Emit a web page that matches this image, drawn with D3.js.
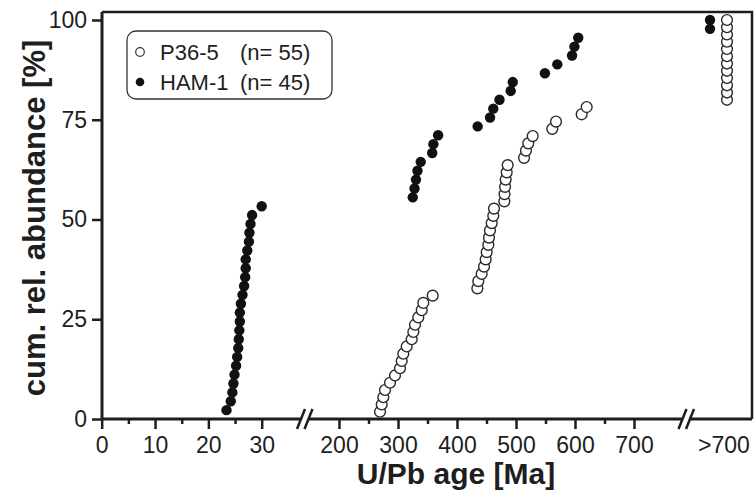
<!DOCTYPE html>
<html>
<head>
<meta charset="utf-8">
<script src="https://cdn.jsdelivr.net/npm/d3@7"></script>
<style>
  body { margin: 0; background: #fff; }
  svg { display: block; font-family: "Liberation Sans", Arial, sans-serif; }
</style>
</head>
<body>
<svg id="chart"></svg>
<script>
// U/Pb ages, sorted; ">700" = plotted in the overflow column
const hamAges = [23.4, 24.2, 24.5, 24.7, 24.9, 25.2, 25.4, 25.6, 25.7, 25.8, 25.9, 25.9,
    26.1, 26.4, 26.7, 26.9, 27.0, 27.0, 27.3, 27.6, 27.7, 27.9, 28.2, 30.0,
    325, 328, 330.5, 333, 338.5, 358, 360, 368, 435, 456, 461.5, 472, 491, 494.5,
    549, 570, 595, 599, 605.5, '>700', '>700'];
const p36Ages = [269.5, 272.4, 275.1, 278, 286.4, 294.9, 303.4, 306.3, 309, 314.7, 323.2,
    326, 328.8, 334.4, 340.2, 342.9, 358.8,
    434.5, 436.1, 441.8, 445.8, 448.6, 450.3, 453.1, 454.2, 455.9, 458.8, 461.5, 462.7,
    480.2, 480.5, 481.4, 482.5, 484.2, 485.9, 513.6, 516.9, 520.8, 528.3, 561.5, 567.8,
    611.3, 619.8,
    '>700', '>700', '>700', '>700', '>700', '>700', '>700', '>700', '>700', '>700', '>700', '>700'];
const seriesNames = ['P36-5', 'HAM-1'];
const yTicks = [0, 25, 50, 75, 100];
const xTicks1 = [0, 10, 20, 30];
const xMinor1 = [5, 15, 25];
const xTicks2 = [200, 300, 400, 500, 600, 700];
const xMinor2 = [250, 350, 450, 550, 650];
const overflowLabel = '>700';

const width = 756;
const height = 497;
const plotLeft = 102, plotTop = 12, plotRight = 752, y0 = 419;
const ink = '#1e1e1e';

const svg = d3.select('#chart')
    .attr('width', width)
    .attr('height', height);

const y = d3.scaleLinear().domain([0, 100]).range([y0, 20]);
const x1 = d3.scaleLinear().domain([0, 30]).range([101.7, 261.7]);
const x2 = d3.scaleLinear().domain([200, 700]).range([339, 634]);
const x3 = d3.scalePoint().domain(['HAM-1', 'P36-5']).range([710, 727]);

const xPos = (age, name) => age === overflowLabel ? x3(name) : (age < 100 ? x1(age) : x2(age));

const cum = (ages, name) => ages.map((a, i) => ({ age: a, name: name, pct: (i + 1) / ages.length * 100 }));

// frame: top and right
svg.append('path')
    .attr('d', `M${plotLeft},${plotTop}H${plotRight}V${y0}`)
    .attr('fill', 'none')
    .attr('stroke', ink)
    .attr('stroke-width', 2.5);

// y axis
const yAxis = svg.append('g')
    .attr('transform', `translate(${plotLeft},0)`)
    .call(d3.axisLeft(y).tickValues(yTicks).tickSize(10).tickPadding(5));
yAxis.select('.domain').remove();
svg.append('line')
    .attr('x1', plotLeft).attr('x2', plotLeft).attr('y1', plotTop).attr('y2', y0)
    .attr('stroke', ink).attr('stroke-width', 3);

// broken x axis
const segs = [[plotLeft, 301], [309, 683], [689, plotRight]];
segs.forEach(s => {
    svg.append('line')
        .attr('x1', s[0]).attr('x2', s[1]).attr('y1', y0).attr('y2', y0)
        .attr('stroke', ink).attr('stroke-width', 3);
});
[301, 308.5, 682.5, 690].forEach(bx => {
    svg.append('line')
        .attr('x1', bx - 4).attr('y1', y0 + 10)
        .attr('x2', bx + 4).attr('y2', y0 - 10)
        .attr('stroke', ink).attr('stroke-width', 2.5);
});

function bottomAxis(scale, vals, size, labels) {
    const g = svg.append('g')
        .attr('transform', `translate(0,${y0})`)
        .call(d3.axisBottom(scale).tickValues(vals).tickSize(size).tickPadding(8)
            .tickFormat(labels ? d3.format('d') : ''));
    g.select('.domain').remove();
    return g;
}
bottomAxis(x1, xTicks1, 10, true);
bottomAxis(x1, xMinor1, 5, false);
bottomAxis(x2, xTicks2, 10, true);
bottomAxis(x2, xMinor2, 5, false);

svg.selectAll('.tick line').attr('stroke', ink).attr('stroke-width', 2.5);
svg.selectAll('.tick text')
    .attr('fill', ink)
    .style('font-size', '23px');

svg.append('text')
    .attr('x', 724).attr('y', y0 + 18)
    .attr('dy', '0.71em')
    .attr('text-anchor', 'middle')
    .attr('fill', ink)
    .style('font-size', '23px')
    .text(overflowLabel);

// axis titles
svg.append('text')
    .attr('transform', 'translate(45,218) rotate(-90)')
    .attr('text-anchor', 'middle')
    .attr('fill', ink)
    .style('font-size', '31px')
    .style('font-weight', 'bold')
    .text('cum. rel. abundance [%]');

svg.append('text')
    .attr('x', 456).attr('y', 484)
    .attr('text-anchor', 'middle')
    .attr('fill', ink)
    .style('font-size', '30px')
    .style('font-weight', 'bold')
    .text('U/Pb age [Ma]');

// points
svg.append('g').selectAll('circle')
    .data(cum(hamAges, 'HAM-1'))
    .enter().append('circle')
    .attr('cx', d => xPos(d.age, d.name))
    .attr('cy', d => y(d.pct))
    .attr('r', 5.2)
    .attr('fill', '#111');

svg.append('g').selectAll('circle')
    .data(cum(p36Ages, 'P36-5'))
    .enter().append('circle')
    .attr('cx', d => xPos(d.age, d.name))
    .attr('cy', d => y(d.pct))
    .attr('r', 5.4)
    .attr('fill', '#fff')
    .attr('stroke', '#2a2a2a')
    .attr('stroke-width', 1.4);

// legend
const legend = svg.append('g');
legend.append('rect')
    .attr('x', 127).attr('y', 31)
    .attr('width', 205).attr('height', 68)
    .attr('rx', 9)
    .attr('fill', '#fff')
    .attr('stroke', '#333')
    .attr('stroke-width', 1.3);

const counts = [p36Ages.length, hamAges.length];
seriesNames.forEach((name, i) => {
    const cy = 52 + i * 30;
    legend.append('circle')
        .attr('cx', 140).attr('cy', cy)
        .attr('r', 4.3)
        .attr('fill', i === 0 ? '#fff' : '#111')
        .attr('stroke', i === 0 ? '#333' : 'none')
        .attr('stroke-width', 1.2);
    legend.append('text')
        .attr('x', 160).attr('y', cy + 7.5)
        .attr('fill', ink)
        .style('font-size', '22px')
        .text(name);
    legend.append('text')
        .attr('x', 240).attr('y', cy + 7.5)
        .attr('fill', ink)
        .style('font-size', '22px')
        .text(`(n= ${counts[i]})`);
});
</script>
</body>
</html>
